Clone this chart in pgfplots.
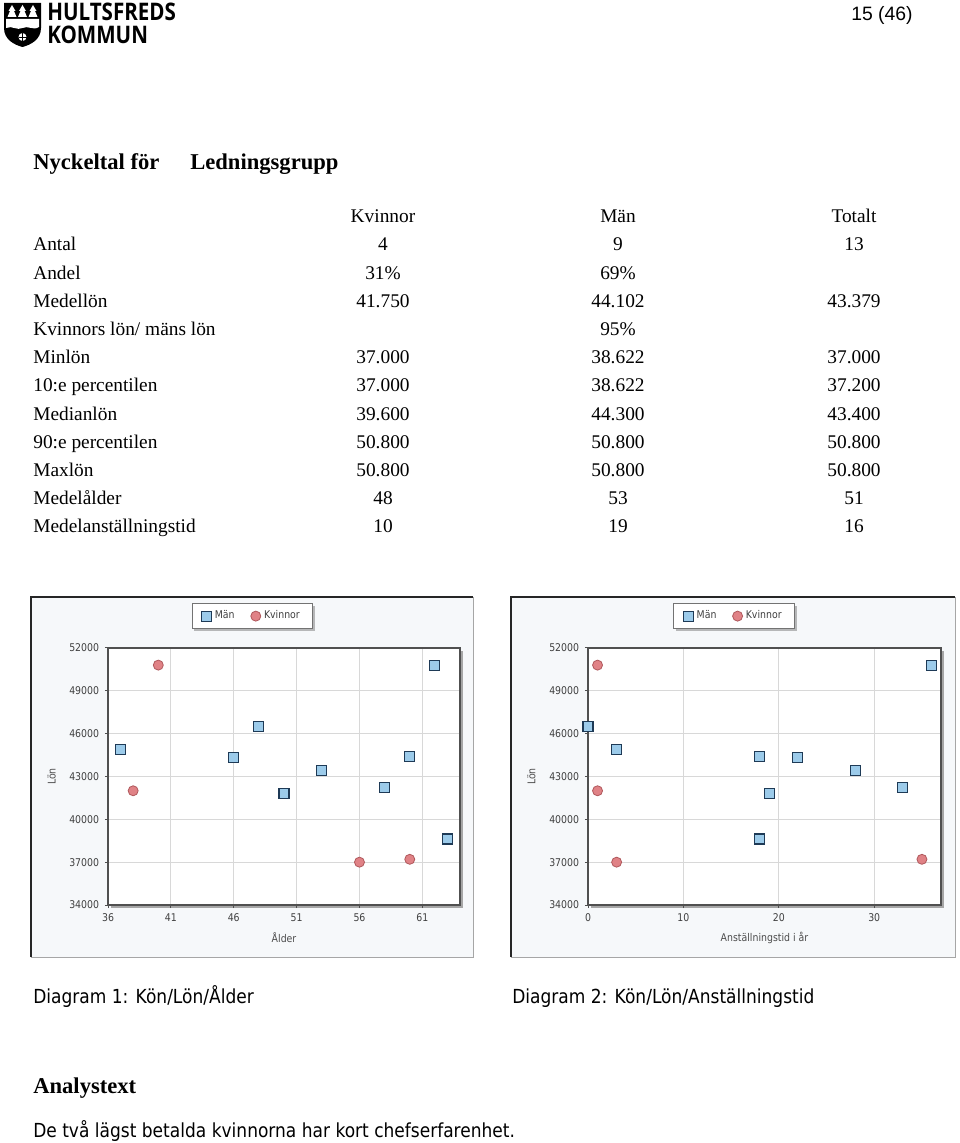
\documentclass[border=0pt]{standalone}
\usepackage{fontspec}
\setmainfont{Liberation Serif}
\newfontfamily\tahoma[FakeStretch=0.88]{DejaVu Sans}
\newfontfamily\arialf{Liberation Sans}
\newfontfamily\logofont[FakeStretch=0.85]{Open Sans}
\usepackage{pgfplots}
\pgfplotsset{compat=1.18}
\usetikzlibrary{shadows}
\definecolor{manfill}{HTML}{9CCBEA}
\definecolor{mandraw}{HTML}{1E3A56}
\definecolor{kvfill}{HTML}{E08286}
\definecolor{kvdraw}{HTML}{B0585C}
\definecolor{chartbg}{HTML}{F6F8FA}
\definecolor{gridc}{HTML}{D8D8D8}
\definecolor{axc}{HTML}{505050}

\pgfplotsset{
 chartstyle/.style={
  scale only axis, width=218.2pt, height=159.3pt,
  ymin=34000, ymax=52000, ytick={34000,37000,...,52000},
  scaled y ticks=false,
  yticklabel style={/pgf/number format/fixed, /pgf/number format/precision=0},
  grid=major, grid style={gridc, line width=0.5pt},
  axis line style={axc, line width=0.9pt},
  tick pos=left, tick align=outside, major tick length=2pt,
  tick style={axc, line width=0.6pt},
  ticklabel style={font=\tahoma\fontsize{6.6}{7}\selectfont, text=black!75},
  /pgf/number format/assume math mode=true,
  /pgf/number format/1000 sep={},
  label style={font=\tahoma\fontsize{6.6}{7}\selectfont, text=black!70},
  ylabel=Lön,
  ylabel style={at={(axis description cs:-0.16,0.5)}, anchor=center},
  xlabel style={at={(axis description cs:0.5,-0.128)}, anchor=center},
  axis background/.style={fill=white},
  legend columns=2,
  legend style={font=\tahoma\fontsize{6.6}{7}\selectfont, text=black!75, draw=black!55, fill=white, anchor=south,
    drop shadow={shadow xshift=1.5pt, shadow yshift=-1.5pt, fill=black!45, opacity=0.6},
    /tikz/every even column/.append style={column sep=8pt}, inner xsep=6pt, inner ysep=2.5pt},
  clip=false,
 },
 manmark/.style={only marks, mark=square*, mark size=3.1pt, mark options={fill=manfill, draw=mandraw, line width=0.7pt}},
 kvmark/.style={only marks, mark=*, mark size=3.1pt, mark options={fill=kvfill, draw=kvdraw, line width=0.5pt}},
}

\newcommand\trow[5]{%
  \node[anchor=base west] at (33,#1) {#2};
  \node[anchor=base] at (383,#1) {#3};
  \node[anchor=base] at (618,#1) {#4};
  \node[anchor=base] at (854,#1) {#5};}

\begin{document}
\begin{tikzpicture}
\begin{scope}[x=0.619792pt, y=-0.619792pt, every node/.style={inner sep=0pt, font=\fontsize{12}{14}\selectfont}]
\path[use as bounding box] (0,0) rectangle (960,1143);
% logo shield
\fill[black] (4,3) -- (41,3) -- (41,28) .. controls (41,40) and (30,45) .. (22.5,47) .. controls (15,45) and (4,40) .. (4,28) -- cycle;
\fill[white] (6,19) -- (39,19) -- (39,27) .. controls (33,31) and (28,25) .. (22.5,28) .. controls (17,31) and (12,25) .. (6,28) -- cycle;
\foreach \tx in {12,22.5,33} {
  \fill[white] (\tx,5) -- (\tx+3.5,11) -- (\tx+2,11) -- (\tx+4.5,17) -- (\tx-4.5,17) -- (\tx-2,11) -- (\tx-3.5,11) -- cycle;
}
\fill[white] (22.5,37) circle (4);
\draw[black, line width=0.6pt] (18.5,37) -- (26.5,37) (22.5,33) -- (22.5,41);
\node[anchor=base west, font=\logofont\bfseries\fontsize{15}{16}\selectfont] at (47,21) {HULTSFREDS};
\node[anchor=base west, font=\logofont\bfseries\fontsize{15}{16}\selectfont] at (47,44) {KOMMUN};
% page number
\node[anchor=base east, font=\arialf\fontsize{12}{14}\selectfont] at (913,21) {15 (46)};
% title
\node[anchor=base west, font=\bfseries\fontsize{14}{16}\selectfont] at (33,169) {Nyckeltal för};
\node[anchor=base west, font=\bfseries\fontsize{14}{16}\selectfont] at (190,169) {Ledningsgrupp};
% table
\node[anchor=base] at (383,222) {Kvinnor};
\node[anchor=base] at (618,222) {Män};
\node[anchor=base] at (854,222) {Totalt};
\trow{250}{Antal}{4}{9}{13}
\trow{279}{Andel}{31\%}{69\%}{}
\trow{307}{Medellön}{41.750}{44.102}{43.379}
\trow{335}{Kvinnors lön/ mäns lön}{}{95\%}{}
\trow{363}{Minlön}{37.000}{38.622}{37.000}
\trow{391}{10:e percentilen}{37.000}{38.622}{37.200}
\trow{420}{Medianlön}{39.600}{44.300}{43.400}
\trow{448}{90:e percentilen}{50.800}{50.800}{50.800}
\trow{476}{Maxlön}{50.800}{50.800}{50.800}
\trow{504}{Medelålder}{48}{53}{51}
\trow{532}{Medelanställningstid}{10}{19}{16}
% chart frames
\fill[chartbg] (31,597) rectangle (473,957);
\draw[black!35] (473,597) -- (473,957) -- (31,957);
\draw[black!85, line width=1.2pt] (31,957) -- (31,597) -- (473,597);
\fill[black!35] (111,651) rectangle (463,908);
\fill[chartbg] (511,597) rectangle (955,957);
\draw[black!35] (955,597) -- (955,957) -- (511,957);
\draw[black!85, line width=1.2pt] (511,957) -- (511,597) -- (955,597);
\fill[black!35] (591,651) rectangle (944,908);
% captions
\node[anchor=base west, font=\tahoma\fontsize{12}{14}\selectfont] at (33,1003) {Diagram 1: Kön/Lön/Ålder};
\node[anchor=base west, font=\tahoma\fontsize{12}{14}\selectfont] at (512,1003) {Diagram 2: Kön/Lön/Anställningstid};
\node[anchor=base west, font=\bfseries\fontsize{14}{16}\selectfont] at (33,1093) {Analystext};
\node[anchor=base west, font=\tahoma\fontsize{12}{14}\selectfont] at (33,1137) {De två lägst betalda kvinnorna har kort chefserfarenhet.};
\end{scope}

\begin{axis}[chartstyle, at={(66.938pt,-560.91pt)}, anchor=south west,
  xmin=36, xmax=64, xtick={36,41,...,61}, xlabel={Ålder},
  legend style={at={(0.41,1.074)}}]
\addplot[manmark] table {
x y
37 44900
46 44300
48 46500
50 41800
53 43400
58 42200
60 44400
62 50800
63 38622
};
\addplot[kvmark] table {
x y
38 42000
40 50800
56 37000
60 37200
};
\legend{Män,Kvinnor}
\end{axis}

\begin{axis}[chartstyle, at={(364.44pt,-560.91pt)}, anchor=south west, width=218.8pt,
  xmin=0, xmax=37, xtick={0,10,20,30}, xlabel={Anställningstid i år},
  legend style={at={(0.414,1.074)}}]
\addplot[manmark] table {
x y
0 46500
3 44900
18 44400
19 41800
22 44300
28 43400
33 42200
36 50800
18 38622
};
\addplot[kvmark] table {
x y
1 50800
1 42000
3 37000
35 37200
};
\legend{Män,Kvinnor}
\end{axis}
\end{tikzpicture}
\end{document}
